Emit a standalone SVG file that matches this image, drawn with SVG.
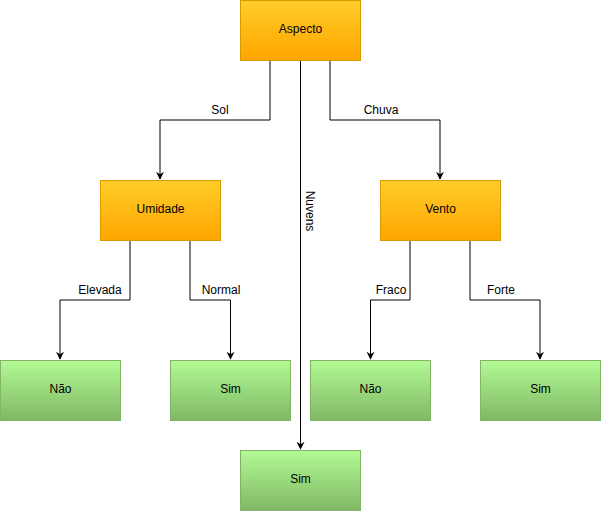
<svg xmlns="http://www.w3.org/2000/svg" width="601" height="512" viewBox="0 0 601 512">
<defs>
<linearGradient id="gO" x1="0" y1="0" x2="0" y2="1"><stop offset="0" stop-color="#ffcd28"/><stop offset="1" stop-color="#ffa500"/></linearGradient>
<linearGradient id="gG" x1="0" y1="0" x2="0" y2="1"><stop offset="0" stop-color="#b3fa94"/><stop offset="1" stop-color="#7fb865"/></linearGradient>
<marker id="arr" viewBox="0 0 10 10" refX="9" refY="5" markerWidth="8" markerHeight="8" markerUnits="userSpaceOnUse" orient="auto">
<path d="M0,0 L10,5 L0,10 L3,5 Z" fill="#000"/>
</marker>
<style>
.o{fill:url(#gO);stroke:#d79b00;stroke-width:1}
.g{fill:url(#gG);stroke:#82b366;stroke-width:1}
.t{font-family:Helvetica,"Liberation Sans",Arial,sans-serif;font-size:12px;fill:#000;text-anchor:middle;dominant-baseline:central}
.e{fill:none;stroke:#000;stroke-width:1;marker-end:url(#arr)}
.lb{font-family:Helvetica,"Liberation Sans",Arial,sans-serif;font-size:12px;fill:#000;text-anchor:middle;dominant-baseline:central}
</style>
</defs>
<g id="connectors">
<path class="e" d="M270,60 V120 H160 V179"/>
<path class="e" d="M330,60 V120 H440 V179"/>
<path class="e" d="M300.5,60 V449"/>
<path class="e" d="M130,240 V300 H60 V359"/>
<path class="e" d="M190,240 V300 H230.5 V359"/>
<path class="e" d="M410,240 V300 H370.5 V359"/>
<path class="e" d="M470,240 V300 H540 V359"/>
<text class="lb" x="220" y="110">Sol</text>
<text class="lb" x="381" y="110">Chuva</text>
<text class="lb" x="100" y="290">Elevada</text>
<text class="lb" x="221" y="290">Normal</text>
<text class="lb" x="391" y="290">Fraco</text>
<text class="lb" x="501" y="290">Forte</text>
<rect x="303" y="188" width="14" height="46" fill="#fff"/>
<text class="lb" transform="translate(310,211) rotate(90)" x="0" y="0">Nuvens</text>
</g>
<g id="aspecto"><rect class="o" x="240.5" y="0.5" width="120" height="60"/><text class="t" x="300.5" y="29">Aspecto</text></g>
<g id="umidade"><rect class="o" x="100.5" y="180.5" width="120" height="60"/><text class="t" x="160.5" y="209">Umidade</text></g>
<g id="vento"><rect class="o" x="380.5" y="180.5" width="120" height="60"/><text class="t" x="440.5" y="209">Vento</text></g>
<g id="nao1"><rect class="g" x="0.5" y="360.5" width="120" height="60"/><text class="t" x="60.5" y="389">Não</text></g>
<g id="sim1"><rect class="g" x="170.5" y="360.5" width="120" height="60"/><text class="t" x="230.5" y="389">Sim</text></g>
<g id="nao2"><rect class="g" x="310.5" y="360.5" width="120" height="60"/><text class="t" x="370.5" y="389">Não</text></g>
<g id="sim2"><rect class="g" x="480.5" y="360.5" width="120" height="60"/><text class="t" x="540.5" y="389">Sim</text></g>
<g id="sim3"><rect class="g" x="240.5" y="450.5" width="120" height="60"/><text class="t" x="300.5" y="479">Sim</text></g>
</svg>
